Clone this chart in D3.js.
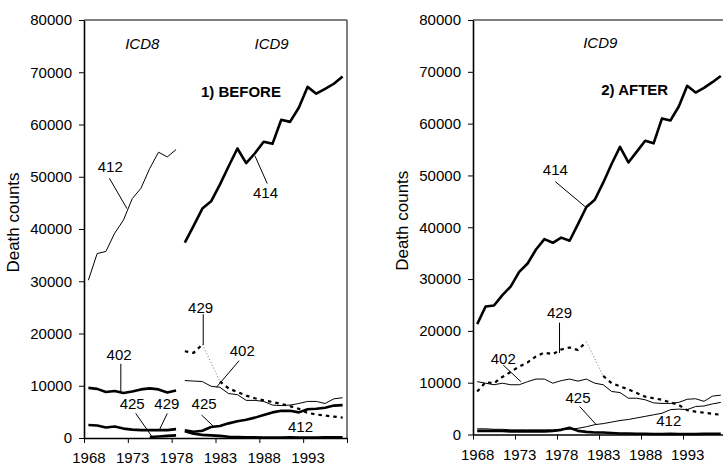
<!DOCTYPE html>
<html>
<head>
<meta charset="utf-8">
<script src="https://cdn.jsdelivr.net/npm/d3@7"></script>
<style>
  body { margin: 0; background: #fff; }
  svg { display: block; }
  text { font-family: "Liberation Sans", Arial, sans-serif; fill: #000; }
</style>
</head>
<body>
<div id="chart"></div>
<script>
// categories
const icd8Years = [1968, 1969, 1970, 1971, 1972, 1973, 1974, 1975, 1976, 1977, 1978];
const icd9Years = [1979, 1980, 1981, 1982, 1983, 1984, 1985, 1986, 1987, 1988, 1989, 1990, 1991, 1992, 1993, 1994, 1995, 1996, 1997];
const allYears = icd8Years.concat(icd9Years);
const yearLabels = [1968, 1973, 1978, 1983, 1988, 1993];
const countTicks = [0, 10000, 20000, 30000, 40000, 50000, 60000, 70000, 80000];

// 1) BEFORE - ICD8 period
const before8_412 = [30200, 35300, 35700, 39200, 41700, 45800, 47800, 51600, 54700, 53800, 55200];
const before8_402 = [9600, 9400, 8800, 9000, 8600, 8900, 9300, 9500, 9300, 8700, 9100];
const before8_429 = [2500, 2400, 2000, 2200, 1800, 1600, 1500, 1500, 1500, 1500, 1700];
const before8_425 = [null, null, null, null, null, null, null, 200, 300, 400, 500];

// 1) BEFORE - ICD9 period
const before9_414 = [37400, 40600, 43900, 45300, 48500, 52000, 55400, 52600, 54500, 56700, 56300, 60900, 60500, 63200, 67200, 65900, 66800, 67800, 69200];
const before9_402 = [11000, 10900, 10800, 9900, 9700, 8500, 8300, 7200, 7200, 7000, 6300, 6200, 6300, 6600, 7000, 7000, 6600, 7500, 7700];
const before9_425 = [1500, 1200, 1400, 2100, 2300, 2800, 3200, 3500, 3900, 4400, 4900, 5200, 5200, 4900, 5500, 5600, 5800, 6200, 6300];
const before9_412 = [1300, 800, 600, 500, 400, 250, 200, 150, 150, 100, 100, 100, 150, 100, 100, 100, 150, 150, 150];
const before9_429 = [16600, 16300, 17900, 14400, 10800, 9500, 8800, 8100, 7600, 7200, 6900, 6500, 6100, 5600, 4800, 4500, 4300, 4100, 3900];

// 2) AFTER - whole period in ICD9
const after_414 = [21300, 24700, 24900, 26900, 28600, 31400, 33000, 35700, 37700, 37000, 38000, 37400, 40600, 43900, 45300, 48600, 52200, 55500, 52500, 54600, 56700, 56200, 61000, 60600, 63300, 67300, 66000, 66900, 68000, 69200];
const after_402 = [10200, 9900, 9600, 9900, 9600, 9600, 10200, 10700, 10700, 9900, 10400, 10700, 10300, 10700, 9900, 9600, 8300, 8100, 7000, 7000, 6700, 6100, 6000, 6000, 6200, 6800, 6900, 6400, 7400, 7600];
const after_429 = [8300, 10100, 9900, 11100, 12100, 13100, 13900, 15100, 15800, 15500, 16400, 16800, 16300, 17900, 14600, 11300, 9900, 9300, 8700, 8000, 7300, 7000, 6700, 6200, 5700, 4700, 4400, 4200, 4000, 3800];
const after_425 = [1100, 1100, 1000, 1000, 900, 900, 900, 900, 900, 900, 1000, 1000, 1200, 1500, 1900, 2100, 2400, 2700, 2900, 3200, 3500, 3800, 4100, 4800, 4900, 4800, 5400, 5500, 5900, 6200];
const after_412 = [700, 700, 700, 700, 600, 600, 600, 600, 600, 700, 900, 1300, 700, 500, 400, 400, 300, 200, 200, 150, 150, 100, 100, 150, 100, 100, 100, 150, 150, 150];

const W = 723, H = 466;
const svg = d3.select("#chart").append("svg").attr("width", W).attr("height", H);

const styles = {
  thick: { width: 2.6, dash: null, color: "#000" },
  thin: { width: 1, dash: null, color: "#000" },
  dash: { width: 2.2, dash: "3.5,4", color: "#000" },
  dot: { width: 1, dash: "1.2,2", color: "#888" }
};

function pairs(years, values, from, to) {
  return years.map((yr, i) => [yr, values[i]])
    .filter(d => (from == null || d[0] >= from) && (to == null || d[0] <= to));
}

function drawPanel(box, series, notes) {
  const g = svg.append("g");
  const x = d3.scaleLinear().domain([1967.5, 1997.5]).range([box.left, box.right]);
  const y = d3.scaleLinear().domain([0, 80000]).range([box.bottom, box.top]);

  // top and right border
  g.append("path")
    .attr("d", `M${box.left},${box.top}H${box.right}V${box.bottom}`)
    .attr("fill", "none").attr("stroke", "#000").attr("stroke-width", 1);

  // y axis
  const ya = g.append("g")
    .attr("transform", `translate(${box.left},0)`)
    .call(d3.axisLeft(y).tickValues(countTicks).tickSize(5).tickSizeOuter(0).tickPadding(7).tickFormat(d3.format("d")));
  ya.attr("font-size", 15).attr("font-family", null);
  ya.select(".domain").attr("stroke-width", 1.6);

  // x axis: tick marks between categories, labels on category centres
  const xa = g.append("g")
    .attr("transform", `translate(0,${box.bottom})`)
    .call(d3.axisBottom(x).tickValues(yearLabels.map(v => v - 0.5).concat([1997.5])).tickSize(5).tickSizeOuter(0).tickFormat(""));
  xa.select(".domain").attr("stroke-width", 1.6);
  const xl = g.append("g")
    .attr("transform", `translate(0,${box.bottom})`)
    .call(d3.axisBottom(x).tickValues(yearLabels).tickSize(0).tickPadding(14.5).tickFormat(d3.format("d")));
  xl.attr("font-size", 15).attr("font-family", null);
  xl.select(".domain").remove();

  // axis title
  g.append("text")
    .attr("transform", `translate(${box.left - 71},${(box.top + box.bottom) / 2 - 6.5}) rotate(-90)`)
    .attr("text-anchor", "middle").attr("dy", "0.35em")
    .attr("font-size", 17)
    .text("Death counts");

  // series
  const line = d3.line().defined(d => d[1] != null)
    .x(d => x(d[0])).y(d => y(d[1]));
  series.forEach(s => {
    const st = styles[s.style];
    g.append("path")
      .datum(pairs(s.years, s.values, s.from, s.to))
      .attr("fill", "none")
      .attr("stroke", st.color)
      .attr("stroke-width", st.width)
      .attr("stroke-dasharray", st.dash)
      .attr("stroke-linejoin", "round")
      .attr("d", line);
  });

  // labels and leader lines
  notes.forEach(n => {
    const t = g.append("text")
      .attr("x", x(n.year)).attr("y", y(n.value))
      .attr("text-anchor", "middle")
      .attr("font-size", 15)
      .text(n.text);
    if (n.italic) t.attr("font-style", "italic");
    if (n.bold) t.attr("font-weight", "bold");
    if (n.lead) {
      g.append("line")
        .attr("x1", x(n.lead[0])).attr("y1", y(n.lead[1]))
        .attr("x2", x(n.lead[2])).attr("y2", y(n.lead[3]))
        .attr("stroke", "#000").attr("stroke-width", 1);
    }
  });
}

drawPanel(
  { left: 84, right: 347, top: 20, bottom: 438 },
  [
    { years: icd8Years, values: before8_412, style: "thin" },
    { years: icd8Years, values: before8_402, style: "thick" },
    { years: icd8Years, values: before8_429, style: "thick" },
    { years: icd8Years, values: before8_425, style: "thick" },
    { years: icd9Years, values: before9_414, style: "thick" },
    { years: icd9Years, values: before9_402, style: "thin" },
    { years: icd9Years, values: before9_425, style: "thick" },
    { years: icd9Years, values: before9_412, style: "thick" },
    { years: icd9Years, values: before9_429, style: "dash", to: 1981 },
    { years: icd9Years, values: before9_429, style: "dot", from: 1981, to: 1983 },
    { years: icd9Years, values: before9_429, style: "dash", from: 1983 }
  ],
  [
    { text: "ICD8", italic: true, year: 1974.15, value: 74500 },
    { text: "ICD9", italic: true, year: 1988.9, value: 74500 },
    { text: "1) BEFORE", bold: true, year: 1985.4, value: 65300 },
    { text: "412", year: 1970.5, value: 50900, lead: [1970.4, 49700, 1972.4, 43900] },
    { text: "414", year: 1988.2, value: 45900, lead: [1988.4, 48700, 1987.0, 54000] },
    { text: "402", year: 1971.5, value: 15000, lead: [1971.7, 14200, 1971.7, 8700] },
    { text: "425", year: 1973.0, value: 5500, lead: [1973.4, 4700, 1975.3, 150] },
    { text: "429", year: 1976.95, value: 5500, lead: [1977.0, 4700, 1976.1, 1550] },
    { text: "429", year: 1980.8, value: 24000, lead: [1981.1, 23700, 1981.1, 17800] },
    { text: "402", year: 1985.55, value: 15700, lead: [1985.2, 14800, 1982.6, 9700] },
    { text: "425", year: 1981.2, value: 5500, lead: [1980.9, 4400, 1982.3, 2200] },
    { text: "412", year: 1992.2, value: 1150 }
  ]
);

drawPanel(
  { left: 473, right: 725, top: 20, bottom: 434.5 },
  [
    { years: allYears, values: after_414, style: "thick" },
    { years: allYears, values: after_402, style: "thin" },
    { years: allYears, values: after_425, style: "thin" },
    { years: allYears, values: after_412, style: "thick" },
    { years: allYears, values: after_429, style: "dash", to: 1981 },
    { years: allYears, values: after_429, style: "dot", from: 1981, to: 1983 },
    { years: allYears, values: after_429, style: "dash", from: 1983 }
  ],
  [
    { text: "ICD9", italic: true, year: 1982.65, value: 74500 },
    { text: "2) AFTER", bold: true, year: 1986.75, value: 65450 },
    { text: "414", year: 1977.3, value: 50000, lead: [1977.3, 48800, 1980.9, 43900] },
    { text: "429", year: 1977.8, value: 22500, lead: [1977.8, 21600, 1977.8, 15700] },
    { text: "402", year: 1971.1, value: 13700, lead: [1971.1, 13400, 1973.2, 10200] },
    { text: "425", year: 1980.0, value: 6150, lead: [1980.2, 5400, 1982.2, 1850] },
    { text: "412", year: 1990.8, value: 1650 }
  ]
);
</script>
</body>
</html>
